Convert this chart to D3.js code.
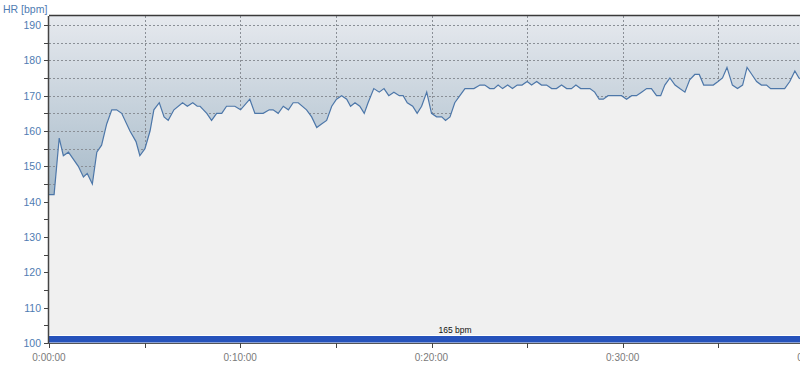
<!DOCTYPE html>
<html>
<head>
<meta charset="utf-8">
<script src="https://cdn.jsdelivr.net/npm/d3@7.9.0/dist/d3.min.js"></script>
<style>
  body { margin: 0; background: #fff; }
  svg { display: block; font-family: "Liberation Sans", Arial, sans-serif; }
</style>
</head>
<body>
<svg id="chart" width="800" height="370"></svg>
<script>
// elapsed time in seconds, heart rate in bpm
const timeSec = [0, 16, 32, 45, 61, 92, 108, 120, 136, 150, 165, 181, 197, 212, 228, 254, 273, 285, 301, 317,
  329, 346, 361, 374, 392, 419, 434, 451, 465, 474, 495, 510, 526, 542, 557, 583, 601, 630, 646, 672,
  691, 703, 719, 735, 751, 766, 782, 808, 824, 840, 855, 871, 887, 902, 918, 934, 946, 960, 975, 989,
  1001, 1019, 1036, 1051, 1066, 1082, 1099, 1111, 1124, 1141, 1155, 1169, 1185, 1200, 1216, 1232, 1244, 1258, 1273, 1289,
  1305, 1333, 1352, 1367, 1383, 1396, 1409, 1423, 1439, 1454, 1469, 1484, 1500, 1514, 1530, 1545, 1561, 1577, 1592, 1608,
  1624, 1639, 1653, 1668, 1697, 1712, 1726, 1739, 1754, 1796, 1812, 1828, 1843, 1859, 1875, 1890, 1906, 1919, 1932, 1948,
  1964, 1979, 1995, 2010, 2026, 2040, 2054, 2084, 2099, 2113, 2127, 2144, 2160, 2176, 2190, 2205, 2220, 2235, 2251, 2264,
  2308, 2324, 2340, 2353, 2370];
const hrBpm = [142, 142, 158, 153, 154, 150, 147, 148, 145, 154, 156, 162, 166, 166, 165, 160, 157, 153, 155, 160,
  166, 168, 164, 163, 166, 168, 167, 168, 167, 167, 165, 163, 165, 165, 167, 167, 166, 169, 165, 165,
  166, 166, 165, 167, 166, 168, 168, 166, 164, 161, 162, 163, 167, 169, 170, 169, 167, 168, 167, 165,
  168, 172, 171, 172, 170, 171, 170, 170, 168, 167, 165, 167, 171, 165, 164, 164, 163, 164, 168, 170,
  172, 172, 173, 173, 172, 172, 173, 172, 173, 172, 173, 173, 174, 173, 174, 173, 173, 172, 172, 173,
  172, 172, 173, 172, 172, 171, 169, 169, 170, 170, 169, 170, 170, 171, 172, 172, 170, 170, 173, 175,
  173, 172, 171, 174.5, 176, 176, 173, 173, 174, 175, 178, 173, 172, 173, 178, 176, 174, 173, 173, 172,
  172, 174, 177, 175, 174];
const avgHr = 165;
const yTicks = [100, 110, 120, 130, 140, 150, 160, 170, 180, 190];
const xTicksMin = [0, 10, 20, 30, 40];

const data = timeSec.map((t, i) => ({ t, hr: hrBpm[i] }));

const svg = d3.select('#chart');
const mLeft = 49, mTop = 16, mBottom = 343, mRight = 814;

const x = d3.scaleLinear().domain([0, 2400]).range([mLeft, mRight]);
const y = d3.scaleLinear().domain([100, 190]).range([mBottom, 25]);

const defs = svg.append('defs');
const grad = defs.append('linearGradient')
  .attr('id', 'bg').attr('x1', 0).attr('y1', 0).attr('x2', 0).attr('y2', 1);
grad.append('stop').attr('offset', 0).attr('stop-color', '#e6e9ee');
grad.append('stop').attr('offset', 0.55).attr('stop-color', '#a6bac9');
grad.append('stop').attr('offset', 1).attr('stop-color', '#7f9db3');
defs.append('clipPath').attr('id', 'clip')
  .append('rect').attr('x', mLeft).attr('y', mTop).attr('width', mRight - mLeft).attr('height', mBottom - mTop);

const plot = svg.append('g').attr('clip-path', 'url(#clip)');

// background
plot.append('rect')
  .attr('x', mLeft).attr('y', mTop).attr('width', mRight - mLeft).attr('height', mBottom - mTop)
  .attr('fill', 'url(#bg)');

// dotted grid
const grid = plot.append('g').attr('stroke', '#8a8f96').attr('stroke-dasharray', '2,2').attr('stroke-width', 1);
grid.selectAll('line.h').data(d3.range(105, 191, 5)).join('line')
  .attr('x1', mLeft).attr('x2', mRight)
  .attr('y1', d => Math.round(y(d)) + 0.5).attr('y2', d => Math.round(y(d)) + 0.5);
grid.selectAll('line.v').data(d3.range(300, 2400, 300)).join('line')
  .attr('y1', mTop).attr('y2', mBottom)
  .attr('x1', d => Math.round(x(d)) + 0.5).attr('x2', d => Math.round(x(d)) + 0.5);

// area under the curve
const area = d3.area().x(d => x(d.t)).y0(mBottom).y1(d => y(d.hr));
plot.append('path').datum(data).attr('d', area).attr('fill', '#f0f0f0');

const line = d3.line().x(d => x(d.t)).y(d => y(d.hr));
plot.append('path').datum(data).attr('d', line)
  .attr('fill', 'none').attr('stroke', '#4d77a9').attr('stroke-width', 1.2);

// zone bar
plot.append('rect').attr('x', mLeft).attr('y', 335).attr('width', mRight - mLeft).attr('height', 1)
  .attr('fill', '#ffffff');
plot.append('rect').attr('x', mLeft).attr('y', 336).attr('width', mRight - mLeft).attr('height', 6.5)
  .attr('fill', '#2652bb');
svg.append('text').attr('x', 455).attr('y', 333).attr('text-anchor', 'middle')
  .attr('font-size', 8.5).attr('fill', '#111').text(`${avgHr} bpm`);

// frame
svg.append('line').attr('x1', mLeft).attr('x2', 800).attr('y1', mTop - 0.5).attr('y2', mTop - 0.5)
  .attr('stroke', '#3a3a3a').attr('stroke-width', 1.5);

// y axis
const yAxis = svg.append('g');
yAxis.append('line').attr('x1', mLeft - 0.5).attr('x2', mLeft - 0.5).attr('y1', mTop).attr('y2', mBottom + 1)
  .attr('stroke', '#444').attr('stroke-width', 1.5);
yAxis.selectAll('line.t').data(d3.range(100, 191, 5)).join('line')
  .attr('x1', mLeft - 5).attr('x2', mLeft)
  .attr('y1', d => Math.round(y(d)) + 0.5).attr('y2', d => Math.round(y(d)) + 0.5)
  .attr('stroke', '#444');
yAxis.selectAll('text').data(yTicks).join('text')
  .attr('x', 41).attr('y', d => y(d) + 4)
  .attr('text-anchor', 'end').attr('font-size', 10.5).attr('fill', '#4f7cb2')
  .text(d => d);
svg.append('text').attr('x', 3).attr('y', 13).attr('font-size', 10.5).attr('fill', '#4f7cb2').text('HR [bpm]');

// x axis
const xAxis = svg.append('g');
xAxis.append('line').attr('x1', mLeft - 1).attr('x2', 800).attr('y1', mBottom + 0.5).attr('y2', mBottom + 0.5)
  .attr('stroke', '#555').attr('stroke-width', 1.2);
xAxis.selectAll('line.t').data(d3.range(0, 2401, 300)).join('line')
  .attr('x1', d => Math.round(x(d)) + 0.5).attr('x2', d => Math.round(x(d)) + 0.5)
  .attr('y1', mBottom).attr('y2', mBottom + 5)
  .attr('stroke', '#444');
const fmt = m => `0:${String(m).padStart(2, '0')}:00`;
xAxis.selectAll('text').data(xTicksMin).join('text')
  .attr('x', d => x(d * 60)).attr('y', 361)
  .attr('text-anchor', 'middle').attr('font-size', 10).attr('fill', '#7a7a7a')
  .text(d => fmt(d));
</script>
</body>
</html>
